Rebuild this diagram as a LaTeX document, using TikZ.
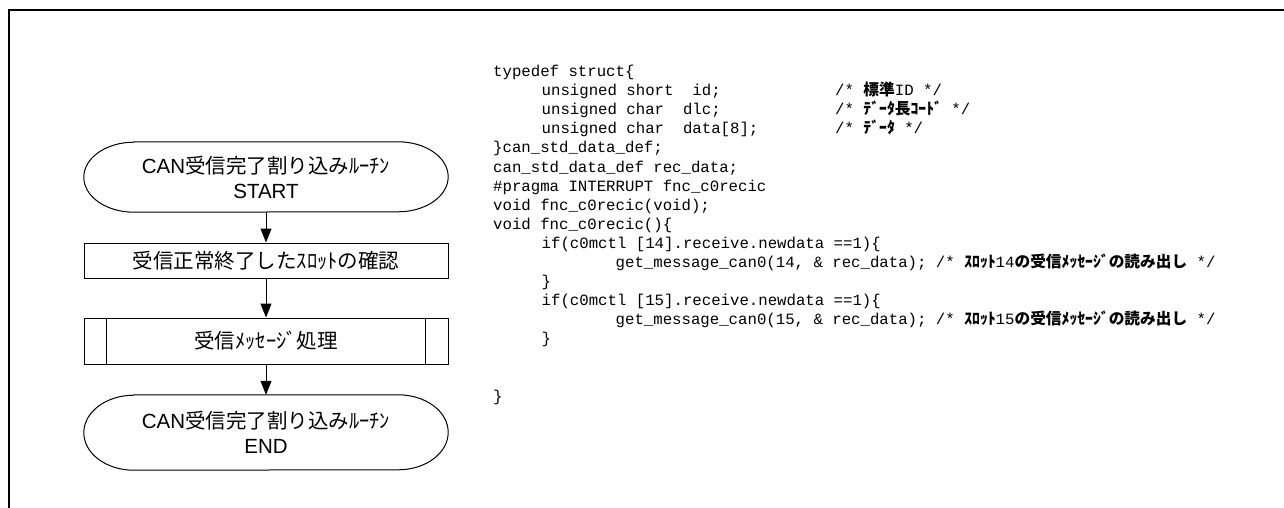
\documentclass[tikz,border=0pt]{standalone}
\usepackage{fontspec}
\setmainfont{Liberation Sans}
\newfontfamily\jpfont{Noto Sans CJK JP}
\newfontfamily\codefont{Liberation Mono}
\newcommand{\J}[1]{{\jpfont #1}}
\newcommand{\JC}[1]{{\jpfont\bfseries #1}}
\usetikzlibrary{arrows.meta}

\begin{document}
\begin{tikzpicture}[x=1pt,y=-1pt,
  flowtext/.style={inner sep=0pt,align=center,font=\fontsize{20.5}{25}\selectfont},
  procbox/.style={flowtext,draw,line width=1pt,minimum width=364pt},
  termbox/.style={flowtext,minimum width=364pt},
  flow/.style={line width=1pt,-{Triangle[length=14pt,width=11pt]}},
  code/.style={anchor=base west,inner sep=0pt,font=\codefont\fontsize{15.7}{19}\selectfont},
]
\useasboundingbox (0,0) rectangle (1284,508);

% outer frame (top and left edges)
\draw[line width=2pt] (9,508) -- (9,10) -- (1284,10);

% ---- flowchart ----
\node[termbox,minimum height=70pt] (start) at (266,177) {CAN\J{受信完了割り込みﾙｰﾁﾝ}\\START};
\node[procbox,minimum height=35pt] (check) at (266,260.5) {\J{受信正常終了したｽﾛｯﾄの確認}};
\node[procbox,minimum height=46pt] (proc) at (266,341) {\J{受信ﾒｯｾｰｼﾞ処理}};
\node[termbox,minimum height=75pt] (end) at (266,432.5) {CAN\J{受信完了割り込みﾙｰﾁﾝ}\\END};

% terminal outlines with elliptical ends
\foreach \n/\r in {start/35,end/37.5}{
  \draw[line width=1pt]
    ([xshift=50pt]\n.north west) -- ([xshift=-50pt]\n.north east)
    arc[start angle=90,end angle=-90,x radius=50pt,y radius=\r pt]
    -- ([xshift=50pt]\n.south west)
    arc[start angle=270,end angle=90,x radius=50pt,y radius=\r pt]
    -- cycle;
}

% predefined-process side bars
\draw[line width=1pt] ([xshift=23pt]proc.north west) -- ([xshift=23pt]proc.south west);
\draw[line width=1pt] ([xshift=-23pt]proc.north east) -- ([xshift=-23pt]proc.south east);

\draw[flow] (start) -- (check);
\draw[flow] (check) -- (proc);
\draw[flow] (proc) -- (end);

% ---- source listing ----
\node[code] (l0)  at (493,76.5)  {typedef struct\{};
\node[code] (l1)  at (541.5,95.6)  {unsigned short~~id;};
\node[code] (m1)  at (835,95.6)  {/*~\JC{標準}ID~*/};
\node[code] (l2)  at (541.5,114.7) {unsigned char~~dlc;};
\node[code] (m2)  at (835,114.7) {/*~\JC{ﾃﾞｰﾀ長ｺｰﾄﾞ}~*/};
\node[code] (l3)  at (541.5,133.8) {unsigned char~~data[8];};
\node[code] (m3)  at (835,133.8) {/*~\JC{ﾃﾞｰﾀ}~*/};
\node[code] (l4)  at (493,152.9) {\}can\_std\_data\_def;};
\node[code] (l5)  at (493,172)   {can\_std\_data\_def rec\_data;};
\node[code] (l6)  at (493,191.1) {\#pragma INTERRUPT fnc\_c0recic};
\node[code] (l7)  at (493,210.2) {void fnc\_c0recic(void);};
\node[code] (l8)  at (493,229.3) {void fnc\_c0recic()\{};
\node[code] (l9)  at (541.5,248.4) {if(c0mctl [14].receive.newdata ==1)\{};
\node[code] (l10) at (615.5,267.5) {get\_message\_can0(14, \& rec\_data);~/*~\JC{ｽﾛｯﾄ}14\JC{の受信ﾒｯｾｰｼﾞの読み出し}~*/};
\node[code] (l11) at (541.5,286.6) {\}};
\node[code] (l12) at (541.5,305.7) {if(c0mctl [15].receive.newdata ==1)\{};
\node[code] (l13) at (615.5,324.8) {get\_message\_can0(15, \& rec\_data);~/*~\JC{ｽﾛｯﾄ}15\JC{の受信ﾒｯｾｰｼﾞの読み出し}~*/};
\node[code] (l14) at (541.5,343.9) {\}};
\node[code] (l17) at (493,401)   {\}};
\end{tikzpicture}
\end{document}
